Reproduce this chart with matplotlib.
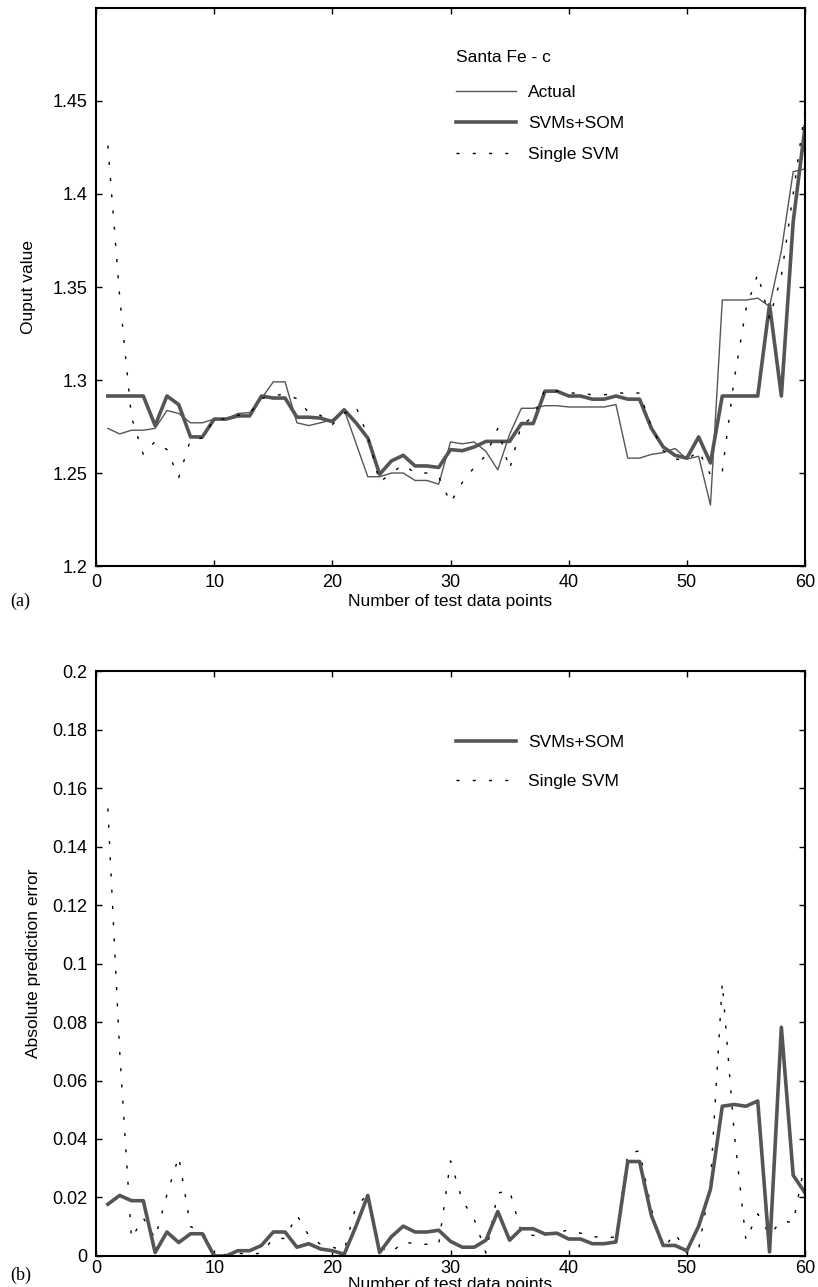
import matplotlib
matplotlib.use('Agg')
import matplotlib.pyplot as plt
import numpy as np

plt.rcParams['font.family'] = ['Liberation Sans', 'DejaVu Sans']

# test data points
points = list(range(1, 61))

# (a) Santa Fe - c: actual series and the two predictions
actual = [1.274, 1.271, 1.273, 1.273, 1.274, 1.2836, 1.282, 1.277, 1.277, 1.279,
          1.279, 1.282, 1.2825, 1.290, 1.299, 1.299, 1.277, 1.2755, 1.277, 1.2786,
          1.284, 1.266, 1.248, 1.248, 1.250, 1.250, 1.246, 1.246, 1.244, 1.2667,
          1.2657, 1.2667, 1.2616, 1.2517, 1.2708, 1.2848, 1.2848, 1.2862, 1.2862, 1.2855,
          1.2855, 1.2855, 1.2855, 1.2868, 1.258, 1.258, 1.260, 1.261, 1.2632, 1.2575,
          1.259, 1.2328, 1.343, 1.343, 1.343, 1.344, 1.3396, 1.3694, 1.412, 1.4135]
svm_som = [1.2914, 1.2914, 1.2914, 1.2914, 1.2755, 1.2914, 1.2868, 1.2694, 1.2694, 1.279,
           1.279, 1.2807, 1.2807, 1.2914, 1.2903, 1.2903, 1.280, 1.280, 1.2795, 1.2776,
           1.284, 1.277, 1.2688, 1.2493, 1.2565, 1.2595, 1.2538, 1.2538, 1.253, 1.2626,
           1.262, 1.264, 1.267, 1.267, 1.267, 1.2766, 1.2766, 1.294, 1.294, 1.2914,
           1.2914, 1.2897, 1.2897, 1.2914, 1.2897, 1.2897, 1.274, 1.264, 1.2595, 1.258,
           1.2694, 1.2554, 1.2914, 1.2914, 1.2914, 1.2914, 1.3406, 1.2914, 1.385, 1.436]
single_svm = [1.426, 1.345, 1.280, 1.260, 1.267, 1.2626, 1.2476, 1.268, 1.2688, 1.279,
              1.279, 1.281, 1.282, 1.290, 1.292, 1.292, 1.290, 1.2825, 1.281, 1.276,
              1.282, 1.2856, 1.270, 1.245, 1.250, 1.2545, 1.250, 1.250, 1.248, 1.234,
              1.245, 1.253, 1.2595, 1.274, 1.252, 1.276, 1.280, 1.295, 1.294, 1.293,
              1.293, 1.292, 1.292, 1.293, 1.293, 1.293, 1.275, 1.262, 1.2575, 1.257,
              1.262, 1.249, 1.251, 1.300, 1.338, 1.357, 1.333, 1.356, 1.400, 1.445]

# (b) absolute prediction errors
err_som = [0.0177, 0.0207, 0.0189, 0.0189, 0.0012, 0.0082, 0.0046, 0.0076, 0.0076, 0.0,
           0.0, 0.0018, 0.0018, 0.0036, 0.0082, 0.0082, 0.003, 0.0042, 0.0024, 0.0018,
           0.0006, 0.0102, 0.0207, 0.0012, 0.0066, 0.0102, 0.0082, 0.0082, 0.0088, 0.005,
           0.003, 0.003, 0.0054, 0.0152, 0.0054, 0.0093, 0.0093, 0.0075, 0.0078, 0.0058,
           0.0058, 0.0042, 0.0042, 0.0048, 0.0323, 0.0323, 0.0138, 0.0036, 0.0036, 0.0018,
           0.0102, 0.0228, 0.0512, 0.0518, 0.0512, 0.053, 0.0014, 0.0782, 0.0276, 0.0216]
err_single = [0.153, 0.070, 0.006, 0.013, 0.006, 0.021, 0.034, 0.010, 0.0085, 0.0005,
              0.0005, 0.001, 0.0005, 0.001, 0.006, 0.006, 0.014, 0.007, 0.004, 0.003,
              0.002, 0.017, 0.021, 0.003, 0.001, 0.005, 0.004, 0.004, 0.004, 0.0325,
              0.019, 0.0126, 0.001, 0.0215, 0.0224, 0.008, 0.007, 0.0078, 0.0078, 0.009,
              0.0078, 0.0066, 0.0064, 0.0064, 0.035, 0.036, 0.016, 0.0024, 0.0078, 0.001,
              0.0024, 0.025, 0.0934, 0.0425, 0.0054, 0.0144, 0.0072, 0.012, 0.0114, 0.032]

x_ticks = [0, 10, 20, 30, 40, 50, 60]
top_yticks = [1.2, 1.25, 1.3, 1.35, 1.4, 1.45]
top_ylabels = ['1.2', '1.25', '1.3', '1.35', '1.4', '1.45']
bot_yticks = np.arange(0, 0.201, 0.02)
bot_ylabels = ['0', '0.02', '0.04', '0.06', '0.08', '0.1', '0.12', '0.14', '0.16', '0.18', '0.2']

gray = '#555555'
dots = (0, (2.2, 9.5))

fig = plt.figure(figsize=(8.18, 12.87), dpi=100)
ax1 = fig.add_axes([0.1174, 0.5602, 0.8667, 0.4336])
ax2 = fig.add_axes([0.1174, 0.0241, 0.8667, 0.4545])

def style_axes(ax, pad, labelpad):
    for s in ax.spines.values():
        s.set_linewidth(1.5)
    ax.tick_params(direction='in', length=4, width=1, top=True, right=True,
                   labelsize=13, pad=6)
    ax.tick_params(axis='x', pad=pad)
    ax.set_xlim(0, 60)
    ax.set_xticks(x_ticks)
    ax.set_xticklabels([str(t) for t in x_ticks])
    ax.set_xlabel('Number of test data points', fontsize=12.5, labelpad=labelpad)

# --- (a) predictions ---
ax1.plot(points, actual, color=gray, lw=1.0, label='Actual')
ax1.plot(points, svm_som, color=gray, lw=2.6, label='SVMs+SOM')
ax1.plot(points, single_svm, color='black', lw=1.0, ls=dots, label='Single SVM')
style_axes(ax1, 6, 2)
ax1.set_ylim(1.2, 1.5)
ax1.set_yticks(top_yticks)
ax1.set_yticklabels(top_ylabels)
ax1.set_ylabel('Ouput value', fontsize=12.5, labelpad=12)
leg1 = ax1.legend(loc='upper left', bbox_to_anchor=(0.495, 0.94), frameon=False,
                  title='Santa Fe - c', alignment='left', fontsize=12.5, title_fontsize=12.5,
                  handlelength=3.5, handletextpad=0.65, labelspacing=0.92, borderpad=0)
leg1._legend_box.sep = 14

# --- (b) absolute errors ---
ax2.plot(points, err_single, color='black', lw=1.0, ls=dots, label='Single SVM')
ax2.plot(points, err_som, color=gray, lw=2.6, label='SVMs+SOM')
style_axes(ax2, 3, 0)
ax2.set_ylim(0, 0.2)
ax2.set_yticks(bot_yticks)
ax2.set_yticklabels(bot_ylabels)
ax2.set_ylabel('Absolute prediction error', fontsize=12.5, labelpad=8)
h, l = ax2.get_legend_handles_labels()
ax2.legend(h[::-1], l[::-1], loc='upper left', bbox_to_anchor=(0.495, 0.905), frameon=False,
           fontsize=12.5, handlelength=3.5, handletextpad=0.65, labelspacing=1.35, borderpad=0)

fig.text(0.012, 1 - 601 / 1287, '(a)', family=['Liberation Serif', 'DejaVu Serif'],
         fontsize=13, va='center')
fig.text(0.012, 1 - 1275 / 1287, '(b)', family=['Liberation Serif', 'DejaVu Serif'],
         fontsize=13, va='center')

fig.savefig('out.png', dpi=100)
